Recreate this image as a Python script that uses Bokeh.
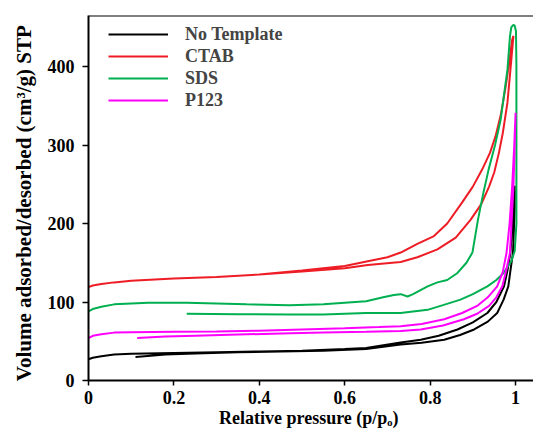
from bokeh.plotting import figure
from bokeh.models import Span, Legend, LegendItem, FixedTicker, Range1d, Title
from bokeh.embed import file_html
from bokeh.resources import INLINE

# ---------------- data ----------------
series_names = ["No Template", "CTAB", "SDS", "P123"]
series_colors = ["#000000", "#ee1c25", "#00b050", "#ff00ff"]

# branch starting at p/po = 0 (left/upper branch)
nt_x1 = [0, 0.01, 0.03, 0.06, 0.1, 0.2, 0.3, 0.4, 0.5, 0.6, 0.65, 0.731, 0.778, 0.82, 0.864, 0.9, 0.934, 0.955, 0.973, 0.981, 0.988, 0.993, 0.998]
nt_y1 = [27, 29, 31, 33, 34, 35, 36, 37, 38, 40, 41.5, 48.5, 52, 57, 65, 74, 86, 100, 120, 140, 163, 205, 248]
# returning branch (right/lower)
nt_x2 = [0.998, 0.998, 0.994, 0.988, 0.983, 0.972, 0.957, 0.935, 0.903, 0.87, 0.833, 0.78, 0.731, 0.65, 0.55, 0.45, 0.35, 0.25, 0.18, 0.11]
nt_y2 = [248, 220, 163, 140, 120, 103, 86, 75, 65, 58, 52, 48, 46, 40, 38, 37, 36, 34.5, 33, 30]

ctab_x1 = [0, 0.01, 0.03, 0.06, 0.1, 0.2, 0.3, 0.4, 0.5, 0.6, 0.654, 0.7, 0.731, 0.77, 0.809, 0.84, 0.875, 0.9, 0.922, 0.94, 0.953, 0.966, 0.977, 0.985, 0.992, 0.995]
ctab_y1 = [119, 121, 123, 125, 127, 130, 132, 135, 140, 146, 152, 157, 163, 174, 184, 200, 227, 247, 269, 290, 311, 340, 375, 405, 434, 439]
ctab_x2 = [0.995, 0.988, 0.981, 0.97, 0.961, 0.95, 0.938, 0.92, 0.895, 0.86, 0.817, 0.77, 0.731, 0.654, 0.6, 0.5, 0.4]
ctab_y2 = [439, 396, 354, 315, 290, 265, 247, 225, 205, 182, 167, 157, 151, 147, 143, 139, 135]

sds_x1 = [0, 0.01, 0.03, 0.06, 0.1, 0.14, 0.23, 0.37, 0.47, 0.55, 0.65, 0.69, 0.715, 0.731, 0.747, 0.76, 0.794, 0.817, 0.84, 0.864, 0.885, 0.899, 0.912, 0.925, 0.937, 0.952, 0.965, 0.981, 0.987, 0.99, 0.995]
sds_y1 = [88, 91, 94, 97, 98, 99, 99, 97, 96, 97, 101, 106, 109, 110, 107, 110, 120, 125, 128, 137, 150, 163, 205, 240, 269, 300, 332, 396, 439, 450, 453]
sds_x2 = [0.998, 1.001, 1.002, 1.002, 0.998, 0.99, 0.972, 0.955, 0.934, 0.9, 0.871, 0.83, 0.794, 0.731, 0.65, 0.55, 0.47, 0.35, 0.23]
sds_y2 = [452, 445, 400, 200, 165, 152, 137, 128, 120, 110, 103, 96, 90, 86, 86, 84, 84, 84.5, 85]

p123_x1 = [0, 0.01, 0.03, 0.06, 0.1, 0.2, 0.3, 0.4, 0.5, 0.6, 0.68, 0.731, 0.78, 0.833, 0.875, 0.91, 0.935, 0.957, 0.97, 0.979, 0.986, 0.992, 0.997, 1.0]
p123_y1 = [54, 57, 59, 61, 61.5, 62, 62.5, 63.5, 65, 66.5, 68, 69, 72, 78, 86, 95, 106, 120, 138, 163, 200, 247, 300, 341]
p123_x2 = [1.0, 0.998, 0.995, 0.987, 0.978, 0.969, 0.955, 0.938, 0.91, 0.879, 0.83, 0.778, 0.731, 0.65, 0.55, 0.45, 0.35, 0.25, 0.18, 0.114]
p123_y2 = [341, 300, 247, 163, 140, 120, 106, 95, 85, 78, 70, 65, 63, 62, 61, 60, 58.5, 57, 56, 54]

x_ticks = [0, 0.2, 0.4, 0.6, 0.8, 1.0]
x_tick_labels = ["0", "0.2", "0.4", "0.6", "0.8", "1"]
y_ticks = [0, 100, 200, 300, 400]

x_title = "Relative pressure  (p/p\u2092)"
y_title = "Volume adsorbed/desorbed  (cm\u00b3/g)  STP"

branches = [
    (nt_x1 + nt_x2, nt_y1 + nt_y2),
    (ctab_x1 + ctab_x2, ctab_y1 + ctab_y2),
    (sds_x1 + sds_x2, sds_y1 + sds_y2),
    (p123_x1 + p123_x2, p123_y1 + p123_y2),
]

FONT = "Liberation Serif"

p = figure(width=533, height=433, output_backend="svg", toolbar_location=None,
           x_range=Range1d(0, 1.042), y_range=Range1d(0, 465),
           min_border_left=87, min_border_right=0, min_border_top=15, min_border_bottom=53)
p.outline_line_color = None
p.grid.visible = False
p.background_fill_color = "white"
p.border_fill_color = "white"

for ax in (p.xaxis[0], p.yaxis[0]):
    ax.axis_line_width = 2
    ax.axis_line_color = "black"
    ax.major_tick_line_width = 1.5
    ax.major_tick_line_color = "black"
    ax.major_tick_out = 6
    ax.major_tick_in = 0
    ax.minor_tick_line_color = None
    ax.major_label_text_font = FONT
    ax.major_label_text_font_style = "bold"
    ax.major_label_text_font_size = "18px"
    ax.major_label_text_color = "black"

p.xaxis.ticker = FixedTicker(ticks=x_ticks)
p.xaxis.major_label_overrides = {t: s for t, s in zip(x_ticks, x_tick_labels)}
p.xaxis.major_label_standoff = 5
p.xaxis.major_tick_out = 5
p.xaxis.axis_label = x_title
p.xaxis.axis_label_text_font = FONT
p.xaxis.axis_label_text_font_style = "bold"
p.xaxis.axis_label_text_font_size = "18px"
p.xaxis.axis_label_text_color = "black"
p.xaxis.axis_label_standoff = 1

p.yaxis.ticker = FixedTicker(ticks=y_ticks)
p.yaxis.major_label_standoff = 8

# y title as a left-side Title so that it can be shifted along the axis
p.add_layout(Title(text=y_title, align="center", offset=-22, standoff=18,
                   text_font=FONT, text_font_style="bold", text_font_size="21px",
                   text_color="black"), "left")

# top border line
p.add_layout(Span(location=465, dimension="width", line_color="black", line_width=2))

items = []
for name, col, (xs, ys) in zip(series_names, series_colors, branches):
    r = p.line(xs, ys, line_color=col, line_width=2)
    items.append(LegendItem(label=name, renderers=[r]))

legend = Legend(items=items, location=(20, 269), glyph_width=60, glyph_height=22,
                label_height=22, label_standoff=17, spacing=0, padding=0, margin=0,
                border_line_color=None, background_fill_alpha=0,
                label_text_font=FONT, label_text_font_style="bold",
                label_text_font_size="18px")
p.add_layout(legend)

open("out.html", "w").write(file_html(p, INLINE))
